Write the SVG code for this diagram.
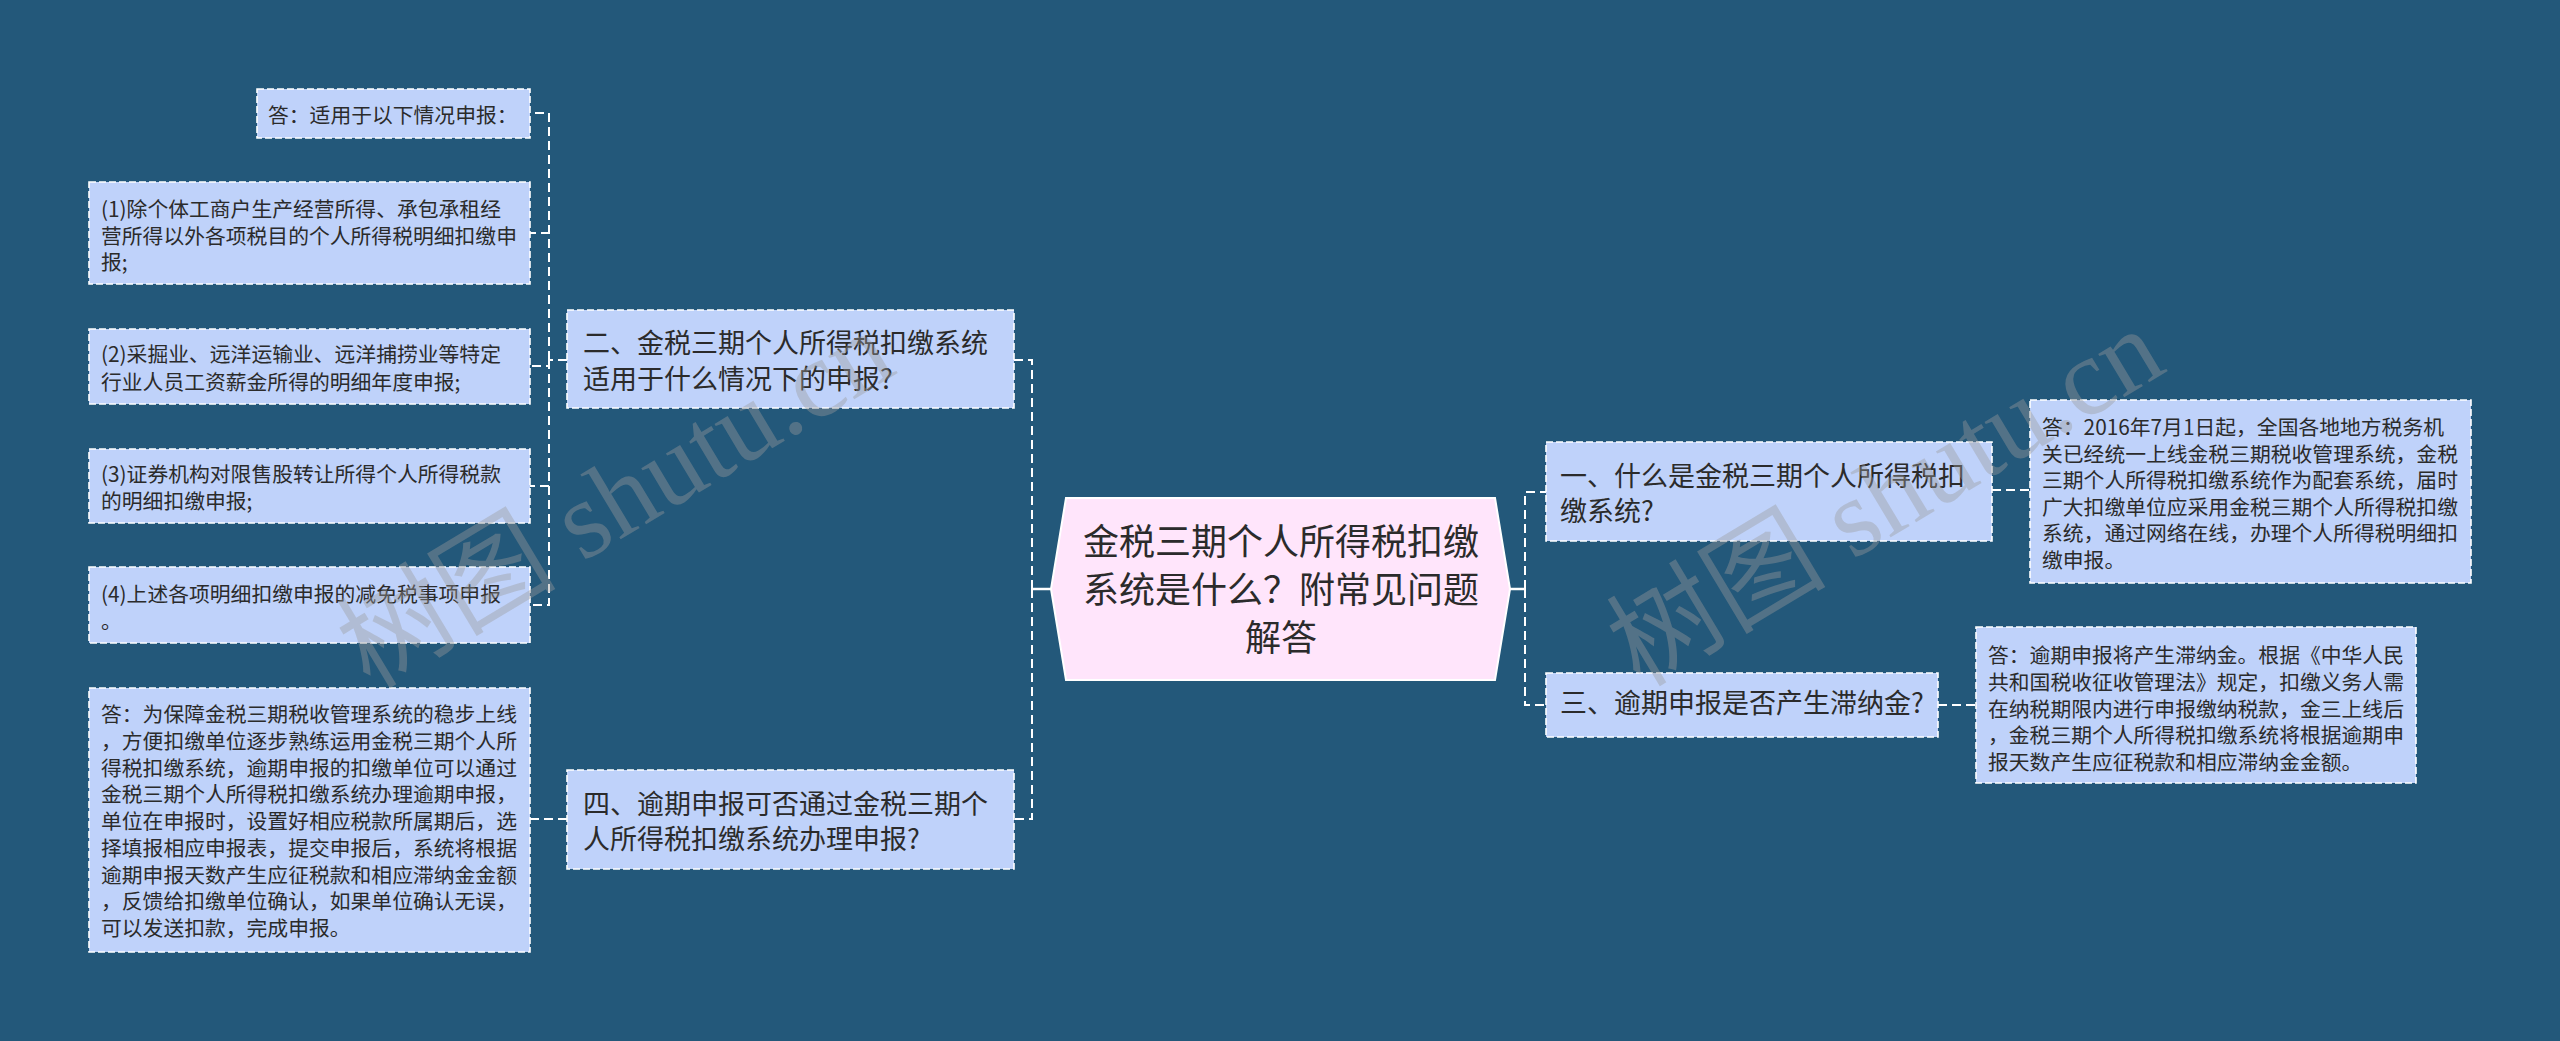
<svg xmlns="http://www.w3.org/2000/svg" width="2560" height="1041" viewBox="0 0 2560 1041">
<style>
.bg{fill:#23587a}
.box{fill:#bfd2fa;stroke:#ffffff;stroke-width:1.6;stroke-dasharray:7,3}
.center{fill:#ffe5fb;stroke:#ffffff;stroke-width:2}
.t{font-family:"Noto Sans CJK SC","Noto Sans",sans-serif;fill:#2b2b2b}
.leaf{font-size:20.8px}
.mid{font-size:27px}
.big{font-size:36px}
.dash{fill:none;stroke:#ffffff;stroke-width:2;stroke-dasharray:9,5}
.solid{fill:none;stroke:#ffffff;stroke-width:2.5}
.wm{font-family:"Liberation Serif","Noto Sans CJK SC",serif;font-size:110px;fill:#9a9a9a;fill-opacity:0.4}
</style>
<rect class="bg" x="0" y="0" width="2560" height="1041"/>
<g id="connectors">
<path class="solid" d="M1051,589 H1032"/>
<path class="dash" d="M1032,589 V360 H1014"/>
<path class="dash" d="M1032,589 V819 H1014"/>
<path class="solid" d="M1510,589 H1525"/>
<path class="dash" d="M1525,589 V492 H1546"/>
<path class="dash" d="M1525,589 V705 H1546"/>
<path class="dash" d="M1992,490 H2030"/>
<path class="dash" d="M1938,705 H1976"/>
<path class="dash" d="M567,360 H549"/>
<path class="dash" d="M549,360 V113 H530"/>
<path class="dash" d="M549,360 V233 H530"/>
<path class="dash" d="M549,360 V366 H530"/>
<path class="dash" d="M549,360 V486 H530"/>
<path class="dash" d="M549,360 V605 H530"/>
<path class="dash" d="M567,819 H530"/>
</g>
<g id="node-center">
<polygon class="center" points="1066,498 1495,498 1510,589 1495,680 1066,680 1051,589"/>
<text class="t big" text-anchor="middle" x="1281" y="555">金税三期个人所得税扣缴</text>
<text class="t big" text-anchor="middle" x="1281" y="603">系统是什么？附常见问题</text>
<text class="t big" text-anchor="middle" x="1281" y="651">解答</text>
</g>
<g id="node-2">
<rect class="box" x="567" y="310" width="447" height="98"/>
<text class="t mid" x="583" y="353">二、金税三期个人所得税扣缴系统</text>
<text class="t mid" x="583" y="389">适用于什么情况下的申报?</text>
</g>
<g id="node-4">
<rect class="box" x="567" y="770" width="447" height="99"/>
<text class="t mid" x="583" y="814">四、逾期申报可否通过金税三期个</text>
<text class="t mid" x="583" y="849">人所得税扣缴系统办理申报?</text>
</g>
<g id="node-1">
<rect class="box" x="1546" y="442" width="446" height="99"/>
<text class="t mid" x="1560" y="486">一、什么是金税三期个人所得税扣</text>
<text class="t mid" x="1560" y="521">缴系统?</text>
</g>
<g id="node-3">
<rect class="box" x="1546" y="673" width="392" height="64"/>
<text class="t mid" x="1560" y="713">三、逾期申报是否产生滞纳金?</text>
</g>
<g id="leaf-2-0">
<rect class="box" x="257" y="89" width="273" height="49"/>
<text class="t leaf" x="268" y="123">答：适用于以下情况申报：</text>
</g>
<g id="leaf-2-1">
<rect class="box" x="89" y="182" width="441" height="102"/>
<text class="t leaf" x="101" y="217">(1)除个体工商户生产经营所得、承包承租经</text>
<text class="t leaf" x="101" y="244">营所得以外各项税目的个人所得税明细扣缴申</text>
<text class="t leaf" x="101" y="270">报;</text>
</g>
<g id="leaf-2-2">
<rect class="box" x="89" y="329" width="441" height="75"/>
<text class="t leaf" x="101" y="362">(2)采掘业、远洋运输业、远洋捕捞业等特定</text>
<text class="t leaf" x="101" y="390">行业人员工资薪金所得的明细年度申报;</text>
</g>
<g id="leaf-2-3">
<rect class="box" x="89" y="449" width="441" height="74"/>
<text class="t leaf" x="101" y="482">(3)证券机构对限售股转让所得个人所得税款</text>
<text class="t leaf" x="101" y="509">的明细扣缴申报;</text>
</g>
<g id="leaf-2-4">
<rect class="box" x="89" y="567" width="441" height="76"/>
<text class="t leaf" x="101" y="602">(4)上述各项明细扣缴申报的减免税事项申报</text>
<text class="t leaf" x="101" y="629">。</text>
</g>
<g id="leaf-4-0">
<rect class="box" x="89" y="688" width="441" height="264"/>
<text class="t leaf" x="101" y="722">答：为保障金税三期税收管理系统的稳步上线</text>
<text class="t leaf" x="101" y="749">，方便扣缴单位逐步熟练运用金税三期个人所</text>
<text class="t leaf" x="101" y="775.5">得税扣缴系统，逾期申报的扣缴单位可以通过</text>
<text class="t leaf" x="101" y="802">金税三期个人所得税扣缴系统办理逾期申报，</text>
<text class="t leaf" x="101" y="829">单位在申报时，设置好相应税款所属期后，选</text>
<text class="t leaf" x="101" y="856">择填报相应申报表，提交申报后，系统将根据</text>
<text class="t leaf" x="101" y="882.5">逾期申报天数产生应征税款和相应滞纳金金额</text>
<text class="t leaf" x="101" y="909">，反馈给扣缴单位确认，如果单位确认无误，</text>
<text class="t leaf" x="101" y="936">可以发送扣款，完成申报。</text>
</g>
<g id="leaf-1-0">
<rect class="box" x="2030" y="400" width="441" height="183"/>
<text class="t leaf" x="2042" y="435">答：2016年7月1日起，全国各地地方税务机</text>
<text class="t leaf" x="2042" y="461.6">关已经统一上线金税三期税收管理系统，金税</text>
<text class="t leaf" x="2042" y="488.2">三期个人所得税扣缴系统作为配套系统，届时</text>
<text class="t leaf" x="2042" y="514.8">广大扣缴单位应采用金税三期个人所得税扣缴</text>
<text class="t leaf" x="2042" y="541.4">系统，通过网络在线，办理个人所得税明细扣</text>
<text class="t leaf" x="2042" y="568">缴申报。</text>
</g>
<g id="leaf-3-0">
<rect class="box" x="1976" y="627" width="440" height="156"/>
<text class="t leaf" x="1988" y="663">答：逾期申报将产生滞纳金。根据《中华人民</text>
<text class="t leaf" x="1988" y="689.8">共和国税收征收管理法》规定，扣缴义务人需</text>
<text class="t leaf" x="1988" y="716.5">在纳税期限内进行申报缴纳税款，金三上线后</text>
<text class="t leaf" x="1988" y="743.2">，金税三期个人所得税扣缴系统将根据逾期申</text>
<text class="t leaf" x="1988" y="770">报天数产生应征税款和相应滞纳金金额。</text>
</g>
<g id="watermark">
<text class="wm" transform="translate(370,690) rotate(-31)">树图 shutu.cn</text>
<text class="wm" transform="translate(1640,688) rotate(-31)">树图 shutu.cn</text>
</g>
</svg>
